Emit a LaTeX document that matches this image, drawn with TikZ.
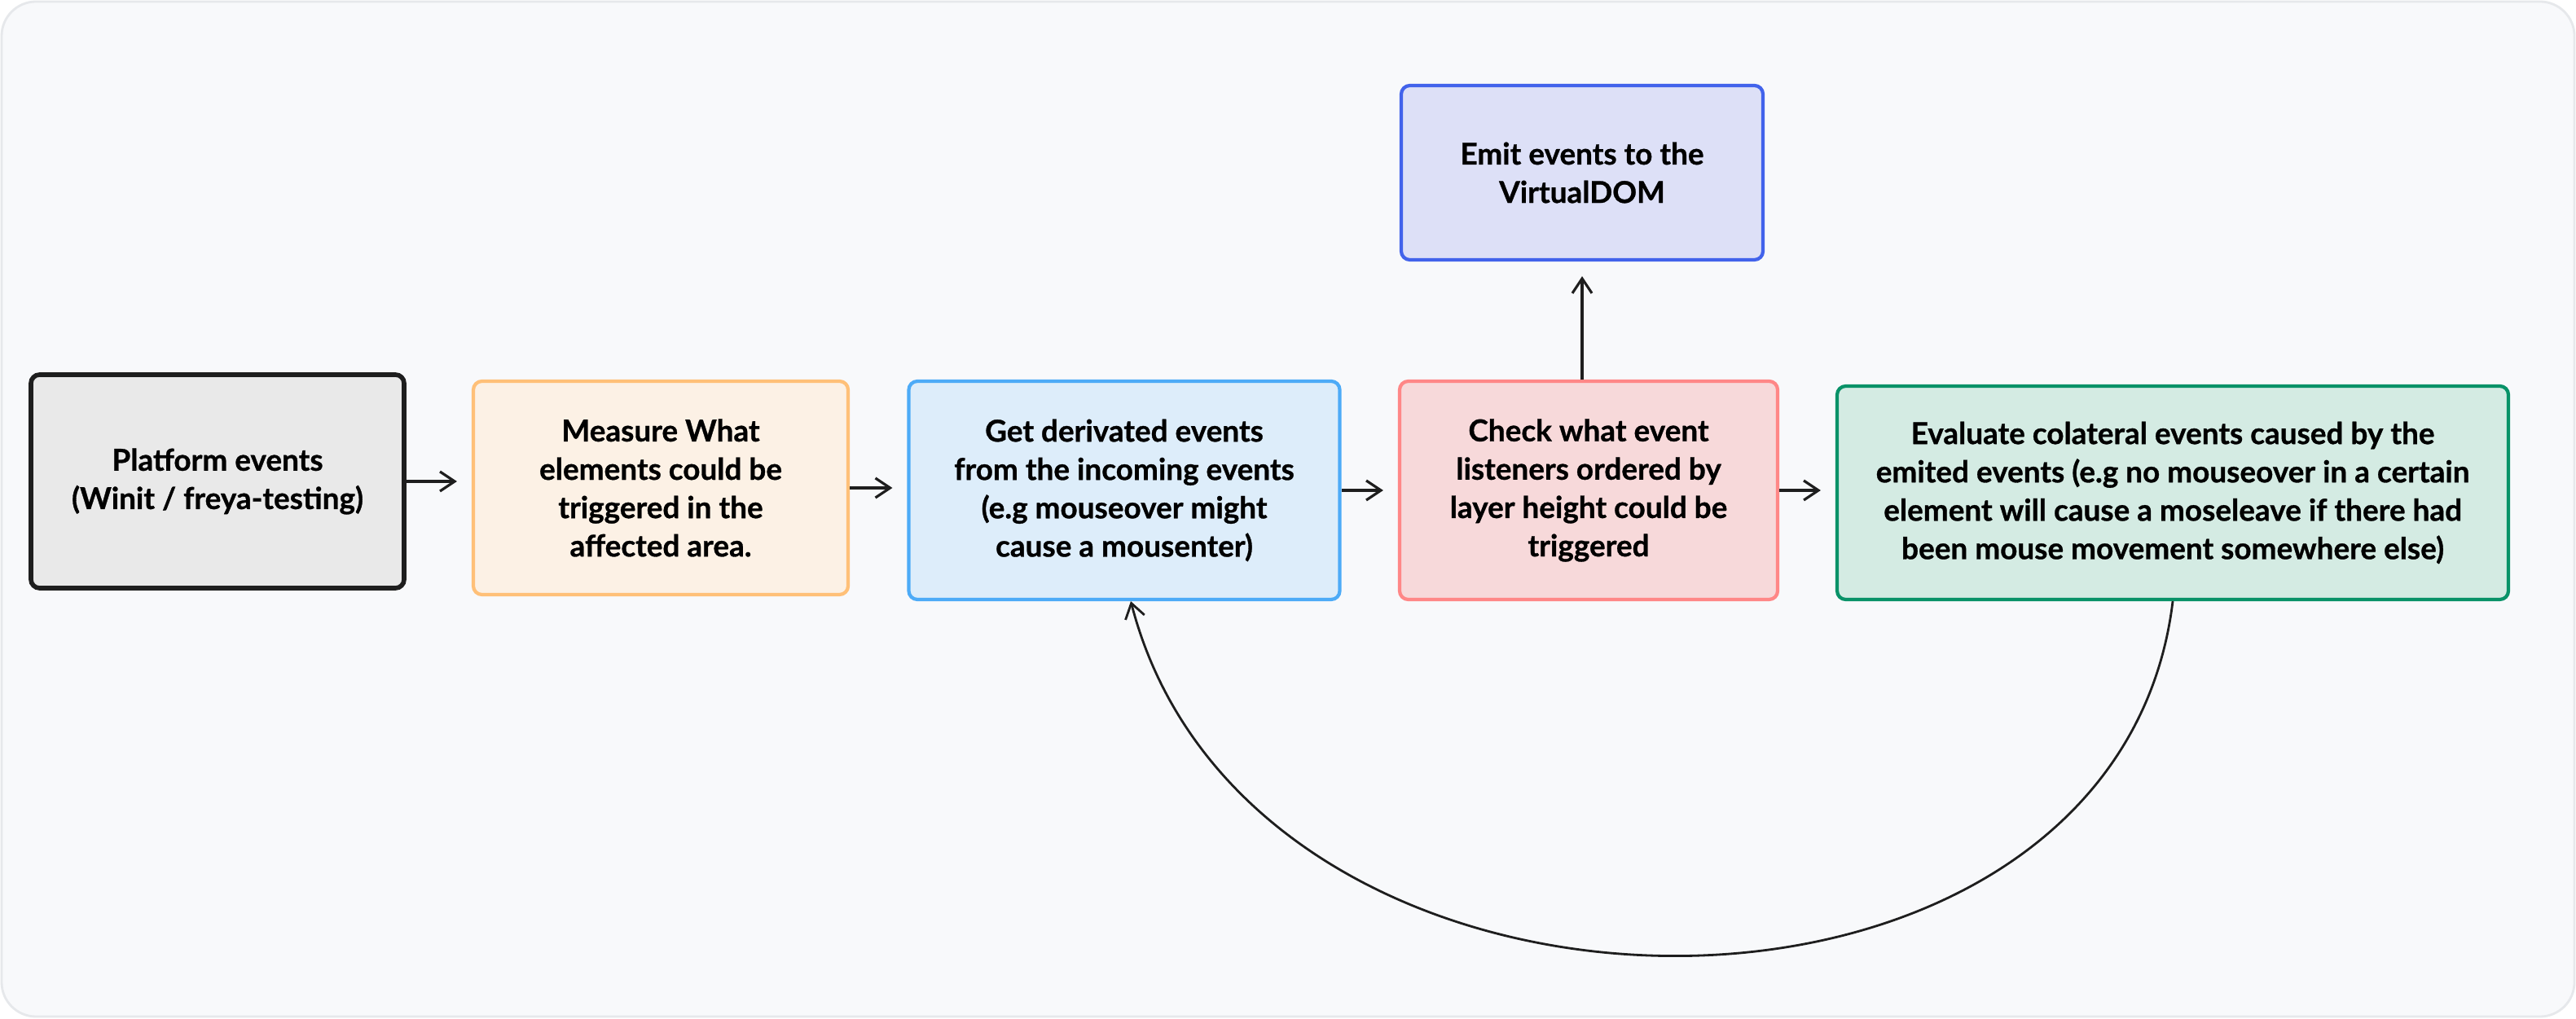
\documentclass[tikz,border=0pt]{standalone}
\usepackage{fontspec}
\setmainfont{Lato}[FakeBold=0.8]
\usepackage{tikz}
\usetikzlibrary{arrows.meta}
\definecolor{FondoLienzo}{HTML}{F8F9FB}
\definecolor{BordeLienzo}{HTML}{E6E8EB}
\definecolor{GrisCaja}{HTML}{E9E9E9}
\definecolor{GrisBorde}{HTML}{1E1E1E}
\definecolor{NaranjaCaja}{HTML}{FCF1E5}
\definecolor{NaranjaBorde}{HTML}{FFC078}
\definecolor{AzulCaja}{HTML}{DDEDFA}
\definecolor{AzulBorde}{HTML}{4DABF7}
\definecolor{RojoCaja}{HTML}{F7D9DA}
\definecolor{RojoBorde}{HTML}{FF8787}
\definecolor{VerdeCaja}{HTML}{D4EBE3}
\definecolor{VerdeBorde}{HTML}{099268}
\definecolor{IndigoCaja}{HTML}{DDE0F7}
\definecolor{IndigoBorde}{HTML}{4263EB}
\definecolor{TintaFlecha}{HTML}{1E1E1E}

\begin{document}
\begin{tikzpicture}[>={Straight Barb[length=1.8mm,width=2.4mm]},
    caja/.style={draw,line width=1.2pt,rounded corners=3pt,align=center,inner sep=0pt,
      font=\bfseries\fontsize{10.5}{13.4}\selectfont},
    flecha/.style={->,line width=0.9pt,draw=TintaFlecha,shorten >=1.8mm}]
  \useasboundingbox (0,0) rectangle (31.62,12.5);
  \fill[white] (0,0) rectangle (31.62,12.5);
  \draw[fill=FondoLienzo,draw=BordeLienzo,line width=0.8pt,rounded corners=12pt] (0.02,0.02) rectangle (31.60,12.48);
  % fila principal
  \node[caja,line width=1.6pt,draw=GrisBorde,fill=GrisCaja,minimum width=4.58cm,minimum height=2.62cm] (plataforma) at (2.67,6.59) {Platform events\\(Winit / freya-testing)};
  \node[caja,draw=NaranjaBorde,fill=NaranjaCaja,minimum width=4.60cm,minimum height=2.62cm] (medir) at (8.11,6.51) {Measure What\\elements could be\\triggered in the\\affected area.};
  \node[caja,draw=AzulBorde,fill=AzulCaja,minimum width=5.29cm,minimum height=2.68cm] (derivar) at (13.80,6.48) {Get derivated events\\from the incoming events\\(e.g mouseover might\\cause a mousenter)};
  \node[caja,draw=RojoBorde,fill=RojoCaja,minimum width=4.64cm,minimum height=2.68cm] (revisar) at (19.50,6.48) {Check what event\\listeners ordered by\\layer height could be\\triggered};
  \node[caja,draw=VerdeBorde,fill=VerdeCaja,minimum width=8.24cm,minimum height=2.62cm] (evaluar) at (26.67,6.45) {Evaluate colateral events caused by the\\emited events (e.g no mouseover in a certain\\element will cause a moseleave if there had\\been mouse movement somewhere else)};
  \node[caja,draw=IndigoBorde,fill=IndigoCaja,minimum width=4.44cm,minimum height=2.14cm] (emitir) at (19.42,10.38) {Emit events to the\\VirtualDOM};
  % conectores
  \draw[flecha] (plataforma.east) -- (plataforma.east -| medir.west);
  \draw[flecha] (medir.east) -- (medir.east -| derivar.west);
  \draw[flecha] (derivar.east) -- (derivar.east -| revisar.west);
  \draw[flecha] (revisar.east) -- (revisar.east -| evaluar.west);
  \draw[flecha] (emitir.south |- revisar.north) -- (emitir.south);
  \draw[->,line width=0.8pt,draw=TintaFlecha] (evaluar.south) .. controls +(-0.7,-5.8) and +(1.5,-5.8) .. ([xshift=0.8mm]derivar.south);
\end{tikzpicture}
\end{document}
